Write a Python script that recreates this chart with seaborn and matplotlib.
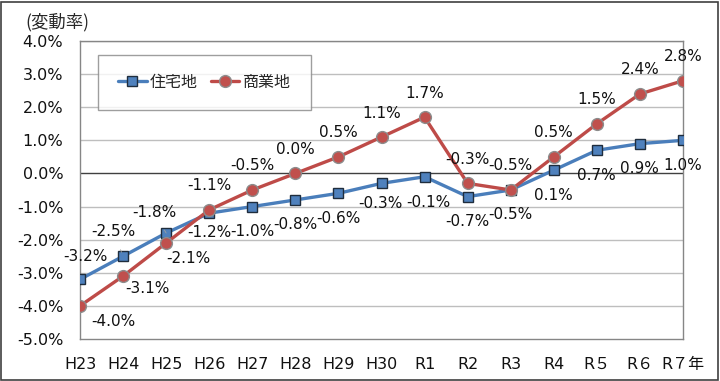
import matplotlib
matplotlib.use('Agg')
import matplotlib.pyplot as plt
import pandas as pd
import seaborn as sns

# years on the x axis
years = ['H23', 'H24', 'H25', 'H26', 'H27', 'H28', 'H29', 'H30',
         'R1', 'R2', 'R3', 'R4', 'R５', 'R６', 'R７年']

# land price change rate (%)
residential = [-3.2, -2.5, -1.8, -1.2, -1.0, -0.8, -0.6, -0.3,
               -0.1, -0.7, -0.5, 0.1, 0.7, 0.9, 1.0]
commercial = [-4.0, -3.1, -2.1, -1.1, -0.5, 0.0, 0.5, 1.1,
              1.7, -0.3, -0.5, 0.5, 1.5, 2.4, 2.8]

series_names = ['住宅地', '商業地']

# label offsets in pixels (default: residential below, commercial above)
res_offsets = {0: (5, 23), 1: (-10, 25), 2: (-12, 21), 3: (0, -19),
               7: (-1, -20), 8: (4, -26)}
com_offsets = {0: (33, -16), 1: (24, -12), 2: (22, -16)}
leader_idx = [0, 1, 2]

BLUE = '#4A7EBB'
RED = '#BE4B48'

df = pd.DataFrame({
    'pos': list(range(len(years))) * 2,
    'rate': residential + commercial,
    'kind': [series_names[0]] * len(years) + [series_names[1]] * len(years),
})

sns.set_style('white')
plt.rcParams['font.family'] = ['DejaVu Sans', 'Noto Sans CJK JP']

fig = plt.figure(figsize=(7.2, 3.81), dpi=100)
ax = fig.add_axes([80 / 720, 1 - 339 / 381, 603 / 720, 298 / 381])

# gridlines
for y in [-4, -3, -2, -1, 1, 2, 3, 4]:
    ax.axhline(y, color='#BEBEBE', lw=1.0, zorder=0)
ax.axhline(0, color='#404040', lw=1.0, zorder=1)

sns.lineplot(data=df[df['kind'] == series_names[0]], x='pos', y='rate', ax=ax,
             color=BLUE, lw=2.4, marker='s', markersize=7,
             markerfacecolor='#4F81BD', markeredgecolor='#1F2D3D',
             markeredgewidth=1.0, label=series_names[0], zorder=3)
sns.lineplot(data=df[df['kind'] == series_names[1]], x='pos', y='rate', ax=ax,
             color=RED, lw=2.4, marker='o', markersize=8.5,
             markerfacecolor='#C0504D', markeredgecolor='#8C8C8C',
             markeredgewidth=1.0, label=series_names[1], zorder=4)

# data labels
for i, v in enumerate(residential):
    dx, dy = res_offsets.get(i, (0, -25))
    arrow = dict(arrowstyle='-', color='#A0A0A0', lw=0.6, shrinkA=6, shrinkB=3) if i in leader_idx else None
    ax.annotate(f'{v:.1f}%', (i, v), xytext=(dx, dy), textcoords='offset pixels',
                ha='center', va='center', fontsize=11, color='#111111',
                arrowprops=arrow, zorder=5)
for i, v in enumerate(commercial):
    dx, dy = com_offsets.get(i, (0, 24))
    ax.annotate(f'{v:.1f}%', (i, v), xytext=(dx, dy), textcoords='offset pixels',
                ha='center', va='center', fontsize=11, color='#111111', zorder=5)

ax.set_xlim(0, len(years) - 1)
ax.set_ylim(-5, 4)
ax.set_xticks(range(len(years)))
ax.set_xticklabels(years)
ax.set_yticks(range(-5, 5))
ax.set_yticklabels([f'{t:.1f}%' for t in range(-5, 5)])
ax.tick_params(axis='both', length=0, labelsize=11.5, colors='#111111')
ax.tick_params(axis='x', pad=13)
ax.tick_params(axis='y', pad=12)
ax.set_xlabel('')
ax.set_ylabel('')
for s in ax.spines.values():
    s.set_color('#868686')
    s.set_linewidth(1.0)

leg = ax.legend(loc='upper left', bbox_to_anchor=(98 / 720, 1 - 55 / 381),
                bbox_transform=fig.transFigure, ncol=2, frameon=True,
                fancybox=False, fontsize=11.5, borderpad=1.25, borderaxespad=0,
                handlelength=1.8, handletextpad=0.2, columnspacing=0.8)
leg.get_frame().set_edgecolor('#868686')
leg.get_frame().set_linewidth(1.0)

# unit label, just right of the widest y tick label's left edge
fig.canvas.draw()
tick_box = ax.get_yticklabels()[0].get_window_extent()
fig.text((tick_box.x0 + 8) / 720, 1 - 22 / 381, '(変動率)', fontsize=12.5,
         va='center', ha='left', family=['Noto Sans CJK JP', 'DejaVu Sans'])

# outer border
fig.patches.append(plt.Rectangle((0.002, 0.003), 0.995, 0.993, transform=fig.transFigure,
                                 fill=False, edgecolor='#404040', lw=1.2))

fig.savefig('out.png', dpi=100)
